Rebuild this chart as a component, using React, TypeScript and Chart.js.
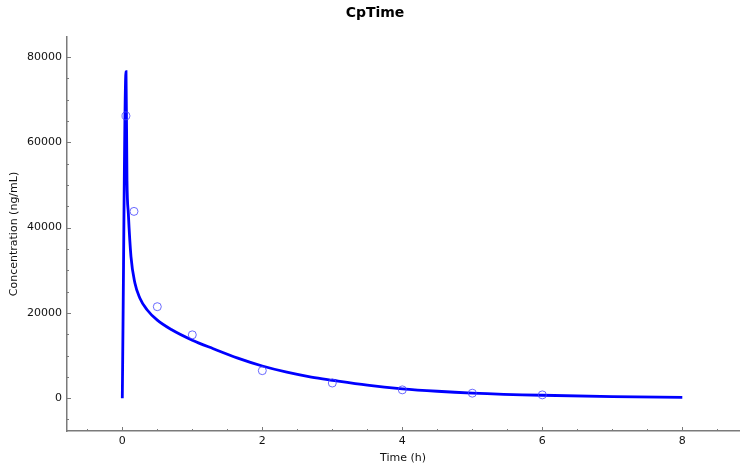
import React, { useEffect, useRef } from "react";
import { Chart, registerables } from "chart.js";

Chart.register(...registerables);

// Predicted concentration curve
const curveTimes = [0, 0.053, 0.067, 0.086, 0.124, 0.18, 0.25, 0.35, 0.5, 0.7, 1.0, 1.3, 1.65, 2.0, 2.35, 2.7, 3.0, 3.5, 4.0, 4.5, 5.0, 6.0, 7.0, 8.0];
const curveConc = [0, 76600, 51000, 43400, 33200, 27000, 23500, 20800, 18300, 16100, 13600, 11600, 9400, 7550, 6100, 4950, 4200, 3050, 2200, 1620, 1200, 680, 370, 190];

// Observed concentrations
const obsTimes = [0.053, 0.167, 0.5, 1, 2, 3, 4, 5, 6];
const obsConc = [66200, 43800, 21450, 14850, 6450, 3550, 1950, 1170, 770];

// Axis ticks and labels
const xTickValues = [-0.5, 0, 0.5, 1, 1.5, 2, 2.5, 3, 3.5, 4, 4.5, 5, 5.5, 6, 6.5, 7, 7.5, 8, 8.5];
const xMajorLabels = [0, 2, 4, 6, 8];
const yTickValues = [-5000, 0, 5000, 10000, 15000, 20000, 25000, 30000, 35000, 40000, 45000, 50000, 55000, 60000, 65000, 70000, 75000, 80000];
const yMajorLabels = [0, 20000, 40000, 60000, 80000];

const AXIS_COLOR = "#7a7a7a";
const TEXT_COLOR = "#111111";
const FONT = "'DejaVu Sans', sans-serif";

const isMajor = (v: number, list: number[]) => list.some((m) => Math.abs(m - v) < 1e-6);

const innerTicks = {
  id: "innerTicks",
  afterDraw(chart: any) {
    const { ctx, chartArea, scales } = chart;
    ctx.save();
    ctx.strokeStyle = AXIS_COLOR;
    ctx.lineWidth = 1;
    const xs = scales.x;
    xs.ticks.forEach((t: any) => {
      const px = Math.round(xs.getPixelForValue(t.value)) + 0.5;
      const len = isMajor(t.value, xMajorLabels) ? 4 : 2;
      ctx.beginPath();
      ctx.moveTo(px, chartArea.bottom);
      ctx.lineTo(px, chartArea.bottom - len);
      ctx.stroke();
    });
    const ys = scales.y;
    ys.ticks.forEach((t: any) => {
      const py = Math.round(ys.getPixelForValue(t.value)) + 0.5;
      const len = isMajor(t.value, yMajorLabels) ? 4 : 2;
      ctx.beginPath();
      ctx.moveTo(chartArea.left, py);
      ctx.lineTo(chartArea.left + len, py);
      ctx.stroke();
    });
    ctx.restore();
  },
};

export default function App() {
  const ref = useRef<HTMLCanvasElement | null>(null);

  useEffect(() => {
    if (!ref.current) return;
    const chart = new Chart(ref.current, {
      type: "line",
      data: {
        datasets: [
          {
            type: "scatter",
            label: "Observed",
            data: obsTimes.map((t, i) => ({ x: t, y: obsConc[i] })),
            showLine: false,
            pointRadius: 4,
            pointHoverRadius: 4,
            pointStyle: "circle",
            backgroundColor: "rgba(0,0,0,0)",
            borderColor: "rgba(70,70,255,0.8)",
            borderWidth: 1,
          } as any,
          {
            type: "line",
            label: "Predicted",
            data: curveTimes.map((t, i) => ({ x: t, y: curveConc[i] })),
            borderColor: "#0000ff",
            borderWidth: 2.8,
            pointRadius: 0,
            fill: false,
            cubicInterpolationMode: "monotone",
          } as any,
        ],
      },
      options: {
        animation: false,
        responsive: false,
        maintainAspectRatio: false,
        layout: { padding: { left: 11, right: 11, top: 0, bottom: 0 } },
        plugins: {
          legend: { display: false },
          tooltip: { enabled: false },
          title: {
            display: true,
            text: "CpTime",
            color: "#000000",
            font: { family: FONT, size: 14, weight: "bold" },
            padding: { top: 5, bottom: 15.2 },
          },
        },
        scales: {
          x: {
            type: "linear",
            min: -0.79,
            max: 8.81,
            grid: { display: false, drawTicks: false },
            border: { display: true, color: AXIS_COLOR, width: 1.5 },
            afterBuildTicks: (s: any) => {
              s.ticks = xTickValues.map((v) => ({ value: v }));
            },
            ticks: {
              autoSkip: false,
              maxRotation: 0,
              padding: 4,
              color: TEXT_COLOR,
              font: { family: FONT, size: 11 },
              callback: (v: any) => (isMajor(Number(v), xMajorLabels) ? String(Math.round(Number(v))) : ""),
            },
            title: {
              display: true,
              text: "Time (h)",
              color: TEXT_COLOR,
              font: { family: FONT, size: 11 },
              padding: { top: 0, bottom: 8 },
            },
            afterFit: (s: any) => {
              s.height = 42;
            },
          },
          y: {
            type: "linear",
            min: -7700,
            max: 84700,
            grid: { display: false, drawTicks: false },
            border: { display: true, color: AXIS_COLOR, width: 1.5 },
            afterBuildTicks: (s: any) => {
              s.ticks = yTickValues.map((v) => ({ value: v }));
            },
            ticks: {
              autoSkip: false,
              padding: 5,
              color: TEXT_COLOR,
              font: { family: FONT, size: 11 },
              callback: (v: any) => (isMajor(Number(v), yMajorLabels) ? String(Math.round(Number(v))) : ""),
            },
            title: {
              display: true,
              text: "Concentration (ng/mL)",
              color: TEXT_COLOR,
              font: { family: FONT, size: 11 },
              padding: { top: -3, bottom: 0 },
            },
            afterFit: (s: any) => {
              s.width = 56;
            },
          },
        },
      },
      plugins: [innerTicks],
    });
    return () => chart.destroy();
  }, []);

  return (
    <div style={{ position: "fixed", left: 0, top: 0, width: 750, height: 473, background: "#ffffff" }}>
      <canvas ref={ref} width={750} height={473} style={{ display: "block", width: 750, height: 473 }} />
    </div>
  );
}
